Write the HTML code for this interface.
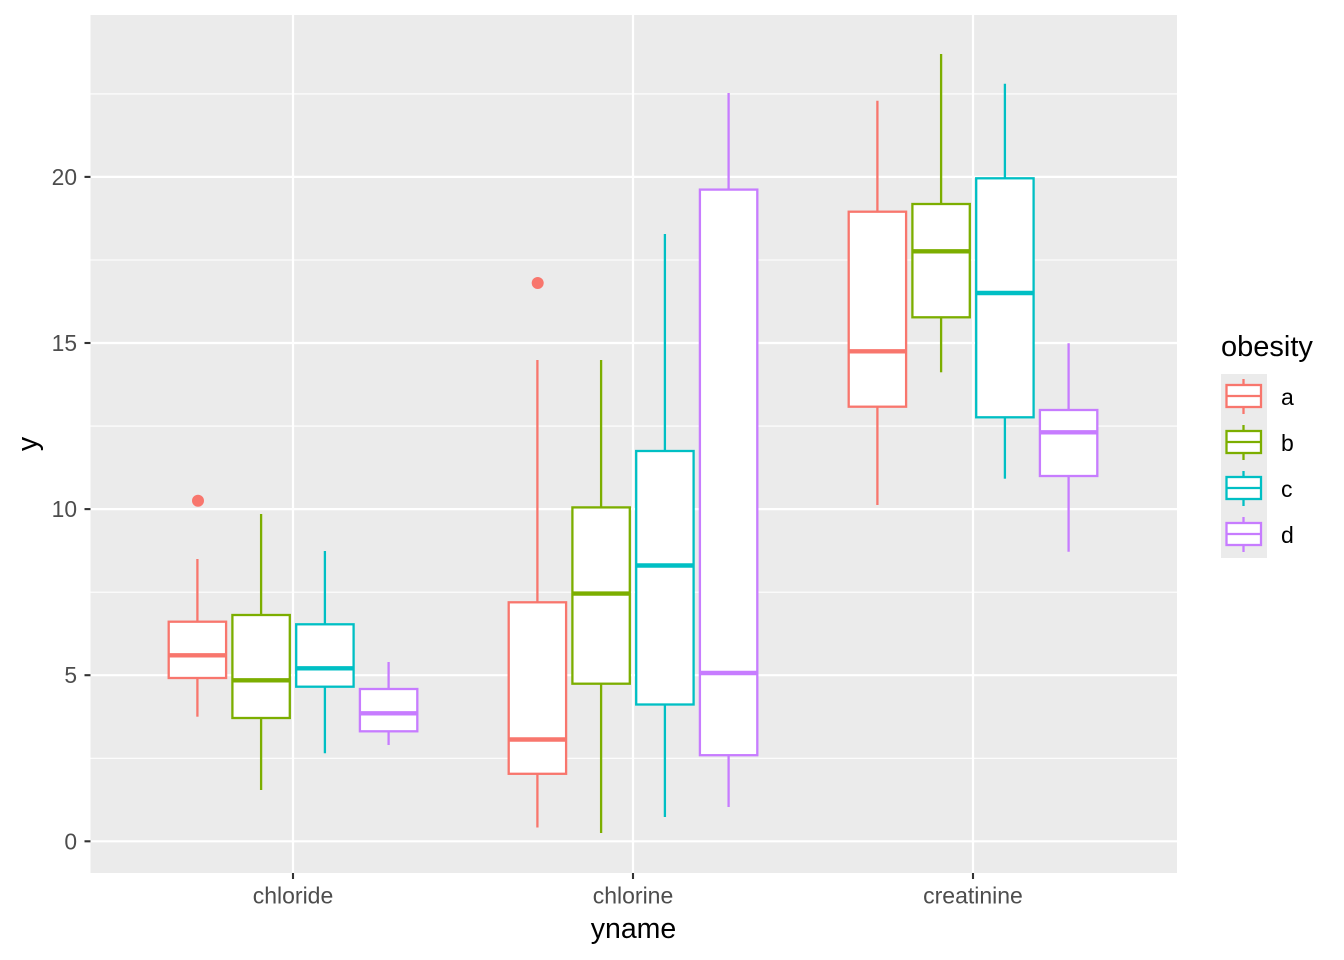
<!DOCTYPE html>
<html>
<head>
<meta charset="utf-8">
<style>
html,body{margin:0;padding:0;background:#fff;}
svg{display:block;}
text{font-family:"Liberation Sans",Arial,sans-serif;}
</style>
</head>
<body>
<svg width="1344" height="960" viewBox="0 0 1344 960" xmlns="http://www.w3.org/2000/svg">
<rect x="0" y="0" width="1344" height="960" fill="#fff"/>
<!-- panel -->
<rect x="90.5" y="15" width="1086.5" height="858" fill="#EBEBEB"/>
<!-- minor grid -->
<g stroke="#fff" stroke-width="1.1">
<line x1="90.5" x2="1177" y1="758.3" y2="758.3"/>
<line x1="90.5" x2="1177" y1="592.2" y2="592.2"/>
<line x1="90.5" x2="1177" y1="426.1" y2="426.1"/>
<line x1="90.5" x2="1177" y1="260" y2="260"/>
<line x1="90.5" x2="1177" y1="93.9" y2="93.9"/>
</g>
<!-- major grid -->
<g stroke="#fff" stroke-width="2.2">
<line x1="90.5" x2="1177" y1="841.3" y2="841.3"/>
<line x1="90.5" x2="1177" y1="675.2" y2="675.2"/>
<line x1="90.5" x2="1177" y1="509.1" y2="509.1"/>
<line x1="90.5" x2="1177" y1="343" y2="343"/>
<line x1="90.5" x2="1177" y1="176.9" y2="176.9"/>
<line x1="293" x2="293" y1="15" y2="873"/>
<line x1="633" x2="633" y1="15" y2="873"/>
<line x1="973" x2="973" y1="15" y2="873"/>
</g>

<!-- boxes -->
<g stroke-width="2.3" fill="#fff">
<!-- chloride -->
<g stroke="#F8766D">
<line x1="197.4" x2="197.4" y1="559" y2="621.7"/><line x1="197.4" x2="197.4" y1="678" y2="716.7"/>
<rect x="168.7" y="621.7" width="57.4" height="56.3"/>
<line x1="168.7" x2="226.1" y1="655.3" y2="655.3" stroke-width="4.4"/>
</g>
<circle cx="198" cy="500.7" r="6" fill="#F8766D" stroke="none"/>
<g stroke="#7CAE00">
<line x1="261.1" x2="261.1" y1="514" y2="615"/><line x1="261.1" x2="261.1" y1="718" y2="790"/>
<rect x="232.4" y="615" width="57.4" height="103"/>
<line x1="232.4" x2="289.8" y1="680.3" y2="680.3" stroke-width="4.4"/>
</g>
<g stroke="#00BFC4">
<line x1="324.9" x2="324.9" y1="551" y2="624.3"/><line x1="324.9" x2="324.9" y1="686.7" y2="753.3"/>
<rect x="296.2" y="624.3" width="57.4" height="62.4"/>
<line x1="296.2" x2="353.6" y1="668.3" y2="668.3" stroke-width="4.4"/>
</g>
<g stroke="#C77CFF">
<line x1="388.6" x2="388.6" y1="662" y2="689"/><line x1="388.6" x2="388.6" y1="731.3" y2="745"/>
<rect x="359.9" y="689" width="57.4" height="42.3"/>
<line x1="359.9" x2="417.3" y1="713.3" y2="713.3" stroke-width="4.4"/>
</g>

<!-- chlorine -->
<g stroke="#F8766D">
<line x1="537.4" x2="537.4" y1="360" y2="602.3"/><line x1="537.4" x2="537.4" y1="773.8" y2="827.5"/>
<rect x="508.7" y="602.3" width="57.4" height="171.5"/>
<line x1="508.7" x2="566.1" y1="739.5" y2="739.5" stroke-width="4.4"/>
</g>
<circle cx="537.7" cy="283" r="6" fill="#F8766D" stroke="none"/>
<g stroke="#7CAE00">
<line x1="601.1" x2="601.1" y1="360" y2="507.4"/><line x1="601.1" x2="601.1" y1="683.7" y2="833"/>
<rect x="572.4" y="507.4" width="57.4" height="176.3"/>
<line x1="572.4" x2="629.8" y1="593.6" y2="593.6" stroke-width="4.4"/>
</g>
<g stroke="#00BFC4">
<line x1="664.9" x2="664.9" y1="234" y2="451"/><line x1="664.9" x2="664.9" y1="704.5" y2="817"/>
<rect x="636.2" y="451" width="57.4" height="253.5"/>
<line x1="636.2" x2="693.6" y1="565.5" y2="565.5" stroke-width="4.4"/>
</g>
<g stroke="#C77CFF">
<line x1="728.6" x2="728.6" y1="93" y2="189.6"/><line x1="728.6" x2="728.6" y1="755.2" y2="807"/>
<rect x="699.9" y="189.6" width="57.4" height="565.6"/>
<line x1="699.9" x2="757.3" y1="673" y2="673" stroke-width="4.4"/>
</g>

<!-- creatinine -->
<g stroke="#F8766D">
<line x1="877.4" x2="877.4" y1="100.7" y2="211.7"/><line x1="877.4" x2="877.4" y1="406.7" y2="505"/>
<rect x="848.7" y="211.7" width="57.4" height="195"/>
<line x1="848.7" x2="906.1" y1="351.3" y2="351.3" stroke-width="4.4"/>
</g>
<g stroke="#7CAE00">
<line x1="941.1" x2="941.1" y1="54" y2="204"/><line x1="941.1" x2="941.1" y1="317.3" y2="372.3"/>
<rect x="912.4" y="204" width="57.4" height="113.3"/>
<line x1="912.4" x2="969.8" y1="251.3" y2="251.3" stroke-width="4.4"/>
</g>
<g stroke="#00BFC4">
<line x1="1004.9" x2="1004.9" y1="83.7" y2="178.3"/><line x1="1004.9" x2="1004.9" y1="417.3" y2="478.7"/>
<rect x="976.2" y="178.3" width="57.4" height="239"/>
<line x1="976.2" x2="1033.6" y1="293" y2="293" stroke-width="4.4"/>
</g>
<g stroke="#C77CFF">
<line x1="1068.6" x2="1068.6" y1="343.3" y2="410"/><line x1="1068.6" x2="1068.6" y1="476" y2="551.7"/>
<rect x="1039.9" y="410" width="57.4" height="66"/>
<line x1="1039.9" x2="1097.3" y1="432.3" y2="432.3" stroke-width="4.4"/>
</g>
</g>

<!-- axis ticks -->
<g stroke="#333333" stroke-width="2.1">
<line x1="84.5" x2="90.5" y1="841.3" y2="841.3"/>
<line x1="84.5" x2="90.5" y1="675.2" y2="675.2"/>
<line x1="84.5" x2="90.5" y1="509.1" y2="509.1"/>
<line x1="84.5" x2="90.5" y1="343" y2="343"/>
<line x1="84.5" x2="90.5" y1="176.9" y2="176.9"/>
<line x1="293" x2="293" y1="873" y2="879"/>
<line x1="633" x2="633" y1="873" y2="879"/>
<line x1="973" x2="973" y1="873" y2="879"/>
</g>

<!-- tick labels -->
<g fill="#4D4D4D" font-size="22.8" text-anchor="end">
<text x="77" y="849.3">0</text>
<text x="77" y="683.2">5</text>
<text x="77" y="517.1">10</text>
<text x="77" y="351">15</text>
<text x="77" y="184.9">20</text>
</g>
<g fill="#4D4D4D" font-size="23" text-anchor="middle">
<text x="293" y="903.5">chloride</text>
<text x="633" y="903.5">chlorine</text>
<text x="973" y="903.5">creatinine</text>
</g>

<!-- axis titles -->
<text x="633.5" y="938" font-size="28.5" text-anchor="middle" fill="#000">yname</text>
<text transform="translate(37,444) rotate(-90)" font-size="28.5" text-anchor="middle" fill="#000">y</text>

<!-- legend -->
<text x="1221" y="356" font-size="29" fill="#000">obesity</text>
<rect x="1221" y="374" width="46" height="184" fill="#EBEBEB"/>
<g stroke-width="2.3" fill="#fff">
<g stroke="#F8766D">
<line x1="1243.5" x2="1243.5" y1="379" y2="385"/><line x1="1243.5" x2="1243.5" y1="407" y2="414"/>
<rect x="1226.5" y="385" width="34.5" height="22"/>
<line x1="1226.5" x2="1261" y1="396" y2="396"/>
</g>
<g stroke="#7CAE00">
<line x1="1243.5" x2="1243.5" y1="425" y2="431"/><line x1="1243.5" x2="1243.5" y1="453" y2="460"/>
<rect x="1226.5" y="431" width="34.5" height="22"/>
<line x1="1226.5" x2="1261" y1="442" y2="442"/>
</g>
<g stroke="#00BFC4">
<line x1="1243.5" x2="1243.5" y1="471" y2="477"/><line x1="1243.5" x2="1243.5" y1="499" y2="506"/>
<rect x="1226.5" y="477" width="34.5" height="22"/>
<line x1="1226.5" x2="1261" y1="488" y2="488"/>
</g>
<g stroke="#C77CFF">
<line x1="1243.5" x2="1243.5" y1="517" y2="523"/><line x1="1243.5" x2="1243.5" y1="545" y2="552"/>
<rect x="1226.5" y="523" width="34.5" height="22"/>
<line x1="1226.5" x2="1261" y1="534" y2="534"/>
</g>
</g>
<g font-size="23" fill="#000">
<text x="1281" y="405">a</text>
<text x="1281" y="451">b</text>
<text x="1281" y="497">c</text>
<text x="1281" y="543">d</text>
</g>
</svg>
</body>
</html>
